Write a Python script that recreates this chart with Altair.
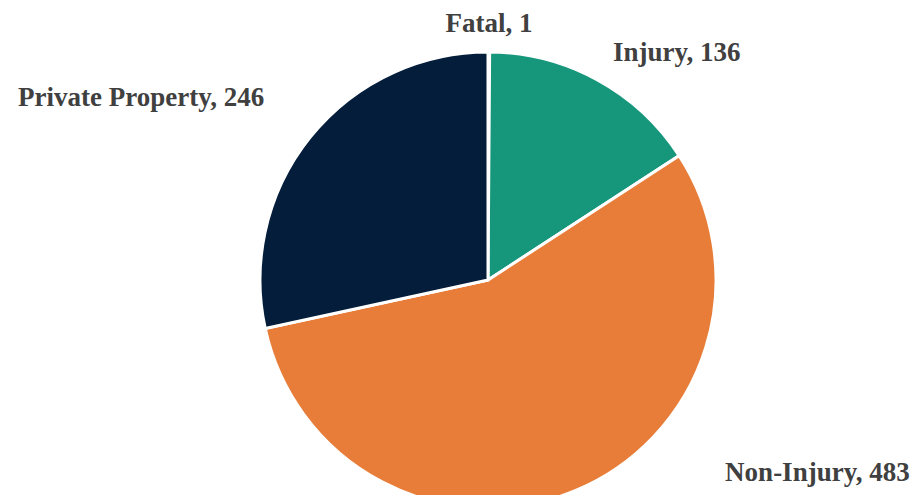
import altair as alt
import pandas as pd

categories = ["Fatal", "Injury", "Non-Injury", "Private Property"]
values = [1, 136, 483, 246]
colors = ["#8FA3B8", "#16967B", "#E87D39", "#031D3A"]

df = pd.DataFrame({
    "category": categories,
    "value": values,
    "order": list(range(len(categories))),
})
df["label"] = df["category"] + ", " + df["value"].astype(str)
TOTAL = sum(values)

CX, CY, R = 480, 272, 228

pie = alt.Chart(df).mark_arc(outerRadius=R, stroke="white", strokeWidth=3).encode(
    theta=alt.Theta("value:Q", stack=True),
    order=alt.Order("order:Q"),
    x=alt.value(CX),
    y=alt.value(CY),
    color=alt.Color("category:N", scale=alt.Scale(domain=categories, range=colors), legend=None),
)

offsets = {
    "Fatal": (0, 2),
    "Injury": (65, -1),
    "Non-Injury": (230, -45),
    "Private Property": (-146, -20),
}

text_base = alt.Chart(df).transform_window(
    cum="sum(value)", sort=[alt.SortField("order")], frame=[None, 0]
).transform_calculate(
    mid="datum.cum - datum.value / 2"
)

layers = [pie]
for cat in categories:
    dx, dy = offsets[cat]
    layers.append(
        text_base.transform_filter(alt.datum.category == cat)
        .mark_text(
            radius=258, dx=dx, dy=dy, font="Liberation Serif", fontWeight="bold",
            fontSize=27, color="#404040", align="center", baseline="middle",
        ).encode(
            theta=alt.Theta("mid:Q", stack=None,
                            scale=alt.Scale(domain=[0, TOTAL], range=[0, 6.283185307])),
            x=alt.value(CX), y=alt.value(CY), text="label:N",
        )
    )

chart = alt.layer(*layers).resolve_scale(theta="independent").properties(
    width=907, height=487, autosize=alt.AutoSizeParams(type="none"), padding=0
).configure_view(stroke=None)

chart.save("out.html", embed_options={"renderer": "svg", "actions": False})
